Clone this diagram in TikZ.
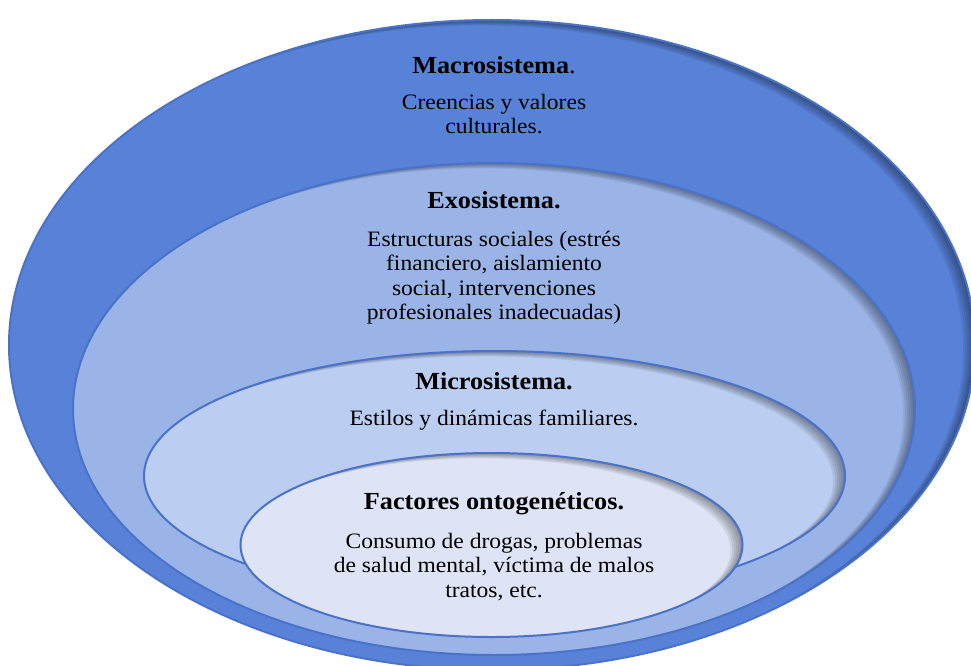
\documentclass[tikz,border=0pt]{standalone}
\usepackage{fontspec}
\setmainfont{Liberation Serif}[FakeStretch=1.07]
\definecolor{cOuter}{HTML}{5882D8}
\definecolor{cExo}{HTML}{9BB4E8}
\definecolor{cMicro}{HTML}{BBCDF0}
\definecolor{cOnto}{HTML}{DEE4F5}
\definecolor{cLine}{HTML}{4A72C8}
\newcommand\myinnershadow[4]{%
  \begin{scope}
    \clip (#1,#2) ellipse [x radius=#3pt, y radius=#4pt];
    \foreach \s in {2,4,...,12} {
      \fill[black, opacity=0.07, even odd rule]
        (-50,-50) rectangle (1050,750)
        ([shift={(-\s,0.45*\s)}]#1,#2) ellipse [x radius=#3pt, y radius=#4pt];
    }
  \end{scope}}
\newcommand\mylayer[5]{%
  \fill[#5] (#1,#2) ellipse [x radius=#3pt, y radius=#4pt];
  \myinnershadow{#1}{#2}{#3}{#4}
  \draw[cLine, line width=2pt] (#1,#2) ellipse [x radius=#3pt, y radius=#4pt];}
\tikzset{
  titletext/.style={anchor=base, inner sep=0pt, align=center, font=\fontsize{24.5}{27}\selectfont\bfseries},
  bodytext/.style={anchor=base, inner sep=0pt, align=center, font=\fontsize{22}{24.5}\selectfont}
}
\begin{document}
\begin{tikzpicture}[x=1pt, y=-1pt]
\useasboundingbox (0,0) rectangle (971,666);
\begin{scope}
\clip (0,0) rectangle (971,666);
\mylayer{492}{345}{483}{325}{cOuter}
\mylayer{494}{409}{421}{246}{cExo}
\mylayer{494.5}{476}{350.5}{125}{cMicro}
\mylayer{491.5}{545}{251}{92}{cOnto}
\end{scope}
% anchor=base of a multi-line node is the baseline of its last line
\node[titletext] (macroT) at (494,74) {Macrosistema\textmd{.}};
\node[bodytext] (macroB) at (494,134) {Creencias y valores\\culturales.};
\node[titletext] (exoT) at (494,208) {Exosistema.};
\node[bodytext] (exoB) at (494,319.5) {Estructuras sociales (estrés\\financiero, aislamiento\\social, intervenciones\\profesionales inadecuadas)};
\node[titletext] (microT) at (494,389) {Microsistema.};
\node[bodytext] (microB) at (494,425) {Estilos y dinámicas familiares.};
\node[titletext] (ontoT) at (494,509) {Factores ontogenéticos.};
\node[bodytext] (ontoB) at (494,597) {Consumo de drogas, problemas\\de salud mental, víctima de malos\\tratos, etc.};
\end{tikzpicture}
\end{document}
